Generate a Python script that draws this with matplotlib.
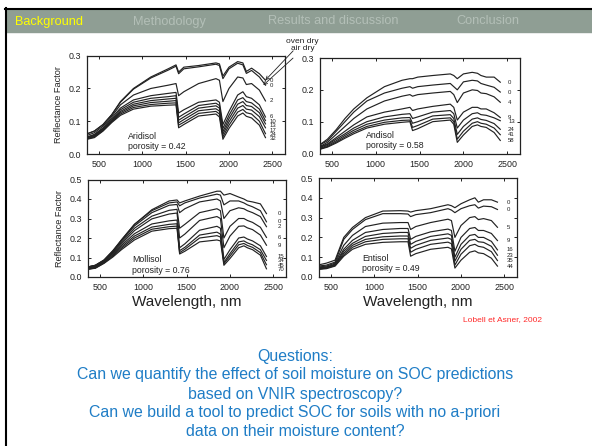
import matplotlib
matplotlib.use("Agg")
import matplotlib.pyplot as plt
from matplotlib.patches import Rectangle
from matplotlib.lines import Line2D

plt.rcParams['font.family'] = ['Liberation Sans', 'DejaVu Sans']

# DATA
wl = [350, 450, 550, 650, 750, 900, 1100, 1300, 1390, 1420, 1480, 1650,
      1850, 1890, 1930, 2000, 2100, 2160, 2200, 2260, 2350, 2420]

aridisol_labels = ['0', '0', '2', '6', '10', '13', '17', '24', '32']
aridisol = [
    [0.06, 0.07, 0.09, 0.12, 0.16, 0.2, 0.235, 0.26, 0.272, 0.25, 0.265, 0.27, 0.278, 0.275, 0.238, 0.265, 0.282, 0.278, 0.252, 0.262, 0.245, 0.225],
    [0.06, 0.07, 0.09, 0.12, 0.158, 0.198, 0.232, 0.256, 0.268, 0.245, 0.26, 0.266, 0.274, 0.27, 0.23, 0.26, 0.277, 0.272, 0.246, 0.255, 0.235, 0.21],
    [0.055, 0.065, 0.085, 0.115, 0.15, 0.18, 0.2, 0.21, 0.215, 0.178, 0.19, 0.215, 0.23, 0.225, 0.16, 0.2, 0.235, 0.232, 0.212, 0.215, 0.195, 0.162],
    [0.05, 0.06, 0.08, 0.11, 0.14, 0.165, 0.178, 0.185, 0.188, 0.125, 0.135, 0.158, 0.165, 0.158, 0.09, 0.13, 0.18, 0.19, 0.175, 0.17, 0.15, 0.113],
    [0.05, 0.058, 0.078, 0.105, 0.135, 0.158, 0.17, 0.175, 0.178, 0.112, 0.122, 0.148, 0.155, 0.148, 0.078, 0.118, 0.165, 0.172, 0.16, 0.156, 0.137, 0.102],
    [0.048, 0.056, 0.076, 0.102, 0.13, 0.152, 0.163, 0.168, 0.17, 0.103, 0.113, 0.14, 0.147, 0.14, 0.068, 0.108, 0.152, 0.16, 0.148, 0.145, 0.126, 0.092],
    [0.046, 0.054, 0.074, 0.1, 0.126, 0.147, 0.157, 0.161, 0.163, 0.095, 0.105, 0.132, 0.138, 0.131, 0.06, 0.098, 0.14, 0.148, 0.137, 0.134, 0.114, 0.08],
    [0.045, 0.052, 0.072, 0.098, 0.122, 0.142, 0.151, 0.155, 0.156, 0.088, 0.097, 0.124, 0.13, 0.122, 0.052, 0.088, 0.128, 0.136, 0.126, 0.122, 0.1, 0.062],
    [0.044, 0.05, 0.07, 0.096, 0.118, 0.137, 0.146, 0.149, 0.15, 0.08, 0.09, 0.116, 0.122, 0.113, 0.045, 0.078, 0.116, 0.125, 0.115, 0.11, 0.088, 0.05],
]

andisol_labels = ['0', '0', '4', '9', '13', '24', '41', '58']
andisol = [
    [0.025, 0.045, 0.075, 0.11, 0.14, 0.175, 0.21, 0.23, 0.235, 0.235, 0.24, 0.245, 0.25, 0.245, 0.235, 0.25, 0.255, 0.252, 0.245, 0.24, 0.24, 0.224],
    [0.025, 0.04, 0.07, 0.1, 0.13, 0.165, 0.19, 0.205, 0.21, 0.205, 0.21, 0.215, 0.22, 0.21, 0.2, 0.225, 0.23, 0.228, 0.22, 0.215, 0.208, 0.193],
    [0.02, 0.035, 0.06, 0.085, 0.11, 0.14, 0.165, 0.18, 0.185, 0.18, 0.185, 0.19, 0.195, 0.185, 0.16, 0.19, 0.2, 0.198, 0.19, 0.188, 0.178, 0.161],
    [0.02, 0.03, 0.05, 0.07, 0.09, 0.115, 0.13, 0.14, 0.145, 0.135, 0.14, 0.148, 0.155, 0.145, 0.105, 0.13, 0.145, 0.145, 0.14, 0.14, 0.128, 0.113],
    [0.018, 0.028, 0.045, 0.062, 0.08, 0.1, 0.115, 0.123, 0.125, 0.11, 0.115, 0.13, 0.135, 0.125, 0.08, 0.105, 0.125, 0.128, 0.122, 0.12, 0.112, 0.103],
    [0.015, 0.025, 0.04, 0.057, 0.073, 0.092, 0.105, 0.112, 0.113, 0.095, 0.1, 0.118, 0.122, 0.11, 0.06, 0.085, 0.108, 0.112, 0.107, 0.104, 0.094, 0.076],
    [0.013, 0.022, 0.036, 0.052, 0.067, 0.085, 0.098, 0.104, 0.105, 0.082, 0.088, 0.108, 0.112, 0.1, 0.045, 0.07, 0.095, 0.1, 0.095, 0.092, 0.08, 0.059],
    [0.012, 0.02, 0.033, 0.048, 0.062, 0.08, 0.092, 0.098, 0.1, 0.072, 0.078, 0.1, 0.105, 0.092, 0.035, 0.058, 0.085, 0.09, 0.085, 0.082, 0.066, 0.041],
]

mollisol_labels = ['0', '0', '2', '6', '9', '15', '34', '45', '70']
mollisol = [
    [0.05, 0.06, 0.085, 0.13, 0.19, 0.27, 0.345, 0.39, 0.395, 0.38, 0.39, 0.415, 0.44, 0.44, 0.42, 0.428, 0.41, 0.4, 0.39, 0.385, 0.375, 0.325],
    [0.05, 0.06, 0.088, 0.135, 0.19, 0.27, 0.34, 0.38, 0.385, 0.365, 0.38, 0.405, 0.425, 0.42, 0.37, 0.39, 0.39, 0.38, 0.37, 0.36, 0.34, 0.283],
    [0.05, 0.06, 0.086, 0.132, 0.185, 0.262, 0.33, 0.368, 0.372, 0.33, 0.35, 0.385, 0.4, 0.39, 0.3, 0.34, 0.355, 0.35, 0.34, 0.33, 0.31, 0.258],
    [0.045, 0.055, 0.083, 0.126, 0.178, 0.25, 0.312, 0.342, 0.347, 0.25, 0.27, 0.33, 0.35, 0.34, 0.2, 0.26, 0.3, 0.3, 0.29, 0.28, 0.255, 0.203],
    [0.045, 0.055, 0.081, 0.122, 0.17, 0.238, 0.298, 0.323, 0.328, 0.2, 0.22, 0.29, 0.31, 0.3, 0.15, 0.21, 0.26, 0.262, 0.252, 0.243, 0.215, 0.163],
    [0.042, 0.05, 0.078, 0.118, 0.162, 0.222, 0.272, 0.288, 0.292, 0.15, 0.17, 0.24, 0.26, 0.25, 0.09, 0.14, 0.2, 0.205, 0.195, 0.185, 0.16, 0.105],
    [0.04, 0.048, 0.075, 0.112, 0.154, 0.21, 0.256, 0.27, 0.273, 0.135, 0.152, 0.215, 0.23, 0.22, 0.075, 0.12, 0.18, 0.185, 0.175, 0.165, 0.14, 0.085],
    [0.04, 0.046, 0.072, 0.107, 0.147, 0.2, 0.245, 0.258, 0.261, 0.125, 0.142, 0.2, 0.212, 0.205, 0.068, 0.108, 0.165, 0.172, 0.162, 0.152, 0.125, 0.063],
    [0.038, 0.045, 0.07, 0.102, 0.14, 0.19, 0.235, 0.248, 0.25, 0.118, 0.132, 0.18, 0.19, 0.185, 0.06, 0.095, 0.15, 0.16, 0.15, 0.14, 0.112, 0.042],
]

entisol_labels = ['0', '0', '5', '9', '16', '23', '35', '44']
entisol = [
    [0.06, 0.07, 0.085, 0.2, 0.25, 0.3, 0.333, 0.335, 0.333, 0.328, 0.335, 0.345, 0.365, 0.36, 0.35, 0.37, 0.39, 0.4, 0.378, 0.39, 0.39, 0.378],
    [0.055, 0.06, 0.075, 0.19, 0.24, 0.29, 0.32, 0.32, 0.318, 0.305, 0.315, 0.325, 0.345, 0.338, 0.325, 0.345, 0.36, 0.365, 0.348, 0.358, 0.355, 0.341],
    [0.05, 0.055, 0.07, 0.16, 0.21, 0.255, 0.272, 0.275, 0.275, 0.24, 0.255, 0.275, 0.292, 0.285, 0.2, 0.26, 0.3, 0.305, 0.29, 0.295, 0.285, 0.251],
    [0.045, 0.05, 0.065, 0.14, 0.185, 0.225, 0.24, 0.245, 0.245, 0.19, 0.205, 0.228, 0.242, 0.235, 0.13, 0.2, 0.245, 0.25, 0.235, 0.235, 0.22, 0.184],
    [0.045, 0.05, 0.062, 0.13, 0.17, 0.205, 0.22, 0.225, 0.225, 0.165, 0.18, 0.205, 0.218, 0.21, 0.1, 0.165, 0.21, 0.215, 0.2, 0.2, 0.18, 0.137],
    [0.04, 0.045, 0.06, 0.12, 0.16, 0.19, 0.203, 0.207, 0.207, 0.145, 0.16, 0.185, 0.197, 0.19, 0.08, 0.14, 0.185, 0.19, 0.178, 0.175, 0.155, 0.11],
    [0.04, 0.045, 0.058, 0.112, 0.15, 0.178, 0.19, 0.193, 0.193, 0.125, 0.14, 0.165, 0.176, 0.168, 0.06, 0.115, 0.158, 0.165, 0.155, 0.15, 0.128, 0.083],
    [0.038, 0.042, 0.055, 0.105, 0.14, 0.165, 0.175, 0.178, 0.178, 0.105, 0.118, 0.14, 0.15, 0.142, 0.045, 0.085, 0.125, 0.132, 0.122, 0.118, 0.095, 0.055],
]

tabs = ['Background', 'Methodology', 'Results and discussion', 'Conclusion']
questions = ['Questions:',
             'Can we quantify the effect of soil moisture on SOC predictions',
             'based on VNIR spectroscopy?',
             'Can we build a tool to predict SOC for soils with no a-priori',
             'data on their moisture content?']

W, H = 592, 446
INK = '#222222'


def box(x0, y0, x1, y1):
    return [x0 / W, 1 - y1 / H, (x1 - x0) / W, (y1 - y0) / H]


def spread(values, gap):
    # push end labels apart so they do not sit on top of each other
    out = []
    for v in values:
        if out and out[-1] - v < gap:
            v = out[-1] - gap
        out.append(v)
    return out


def panel(rect, curves, labels, ymax, label_x, name, porosity, text_pos,
          ylabel=False, xlabel=False):
    ax = fig.add_axes(box(*rect))
    for c in curves:
        ax.plot(wl, c, color=INK, lw=0.85)
    gap = ymax * 4.4 / (rect[3] - rect[1])
    ends = spread([c[-1] for c in curves], gap)
    for y, lab in zip(ends, labels):
        ax.text(label_x, y, lab, fontsize=4.3, color=INK, va='center', ha='left')
    ax.text(text_pos[0], text_pos[1], name + '\nporosity = ' + porosity,
            fontsize=6.3, color=INK, va='center', ha='left', linespacing=1.25)
    ax.set_xlim(365, 2645)
    ax.set_ylim(0, ymax)
    ax.set_xticks([500, 1000, 1500, 2000, 2500])
    yt = [i / 10 for i in range(int(round(ymax * 10)) + 1)]
    ax.set_yticks(yt)
    ax.set_yticklabels(['%.1f' % v for v in yt])
    ax.tick_params(direction='in', length=2.5, width=0.7, top=True, right=True,
                   labelsize=6.4, pad=4.5, colors=INK)
    for s in ax.spines.values():
        s.set_linewidth(0.9)
        s.set_color(INK)
    if ylabel:
        ax.set_ylabel('Reflectance Factor', fontsize=6.6, color=INK, labelpad=4)
    if xlabel:
        ax.set_xlabel('Wavelength, nm', fontsize=11, color=INK, labelpad=2)
    return ax


fig = plt.figure(figsize=(W / 100, H / 100), dpi=100)

# header bar
fig.patches.append(Rectangle((6 / W, 1 - 32 / H), 1, 23 / H, transform=fig.transFigure,
                             color='#8f9e94', zorder=0))
fig.add_artist(Line2D([5 / W, 1], [1 - 8.5 / H] * 2, color='black', lw=1.5))
fig.add_artist(Line2D([5.5 / W] * 2, [1 - 8 / H, 0], color='black', lw=1.5))
tab_x = [15, 133, 268, 456]
for t, x in zip(tabs, tab_x):
    fig.text(x / W, 1 - 21.5 / H, t, fontsize=9.2, va='center', ha='left',
             color='#ffff00' if t == 'Background' else '#b3bfb7')

ax1 = panel((87, 55.7, 285, 154), aridisol, aridisol_labels, 0.3, 2470,
            'Aridisol', '0.42', (840, 0.038), ylabel=True)
panel((320, 58, 520, 153.5), andisol, andisol_labels, 0.3, 2510,
      'Andisol', '0.58', (890, 0.041))
panel((88, 179.5, 286, 277), mollisol, mollisol_labels, 0.5, 2545,
      'Mollisol', '0.76', (870, 0.062), ylabel=True, xlabel=True)
panel((319, 178, 517, 277), entisol, entisol_labels, 0.5, 2530,
      'Entisol', '0.49', (860, 0.068), xlabel=True)

# oven dry / air dry pointers
ax1.annotate('oven dry', xy=(2418, aridisol[0][-1]), xycoords='data',
             xytext=(302 / W, 1 - 41.5 / H), textcoords='figure fraction',
             fontsize=6, color=INK, ha='center', va='center', annotation_clip=False,
             arrowprops=dict(arrowstyle='->', lw=0.6, color=INK, shrinkA=3, shrinkB=0))
ax1.annotate('air dry', xy=(2395, aridisol[1][-1]), xycoords='data',
             xytext=(303 / W, 1 - 49 / H), textcoords='figure fraction',
             fontsize=6, color=INK, ha='center', va='center', annotation_clip=False,
             arrowprops=dict(arrowstyle='->', lw=0.6, color=INK, shrinkA=3, shrinkB=0))

fig.text(542 / W, 1 - 320 / H, 'Lobell et Asner, 2002', fontsize=6, color='#ff2a2a',
         ha='right', va='center')

for i, q in enumerate(questions):
    fig.text(295 / W, 1 - (356 + 19 * i) / H, q, fontsize=11.4, color='#1f7dc6',
             ha='center', va='center')

fig.savefig('out.png', dpi=100)
